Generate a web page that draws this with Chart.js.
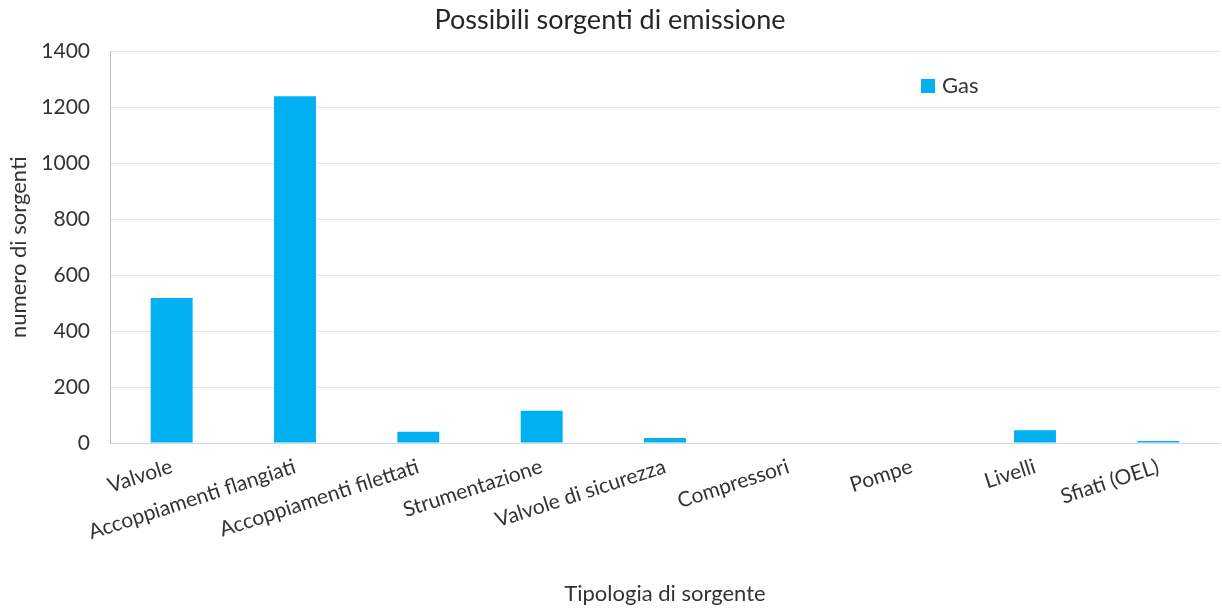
<!DOCTYPE html>
<html>
<head>
<meta charset="utf-8">
<script src="https://cdn.jsdelivr.net/npm/chart.js"></script>
<style>
  html, body { margin: 0; padding: 0; background: #fff; }
  #wrap { width: 1222px; height: 610px; position: relative; }
</style>
</head>
<body>
<div id="wrap"><canvas id="chart"></canvas></div>
<script>
// categorie e valori
var categories = ['Valvole', 'Accoppiamenti flangiati', 'Accoppiamenti filettati', 'Strumentazione',
    'Valvole di sicurezza', 'Compressori', 'Pompe', 'Livelli', 'Sfiati (OEL)'];
var gasValues = [518, 1240, 40, 115, 18, 0, 0, 46, 7];
var seriesName = 'Gas';
var yTicks = [0, 200, 400, 600, 800, 1000, 1200, 1400];

var FONT = 'Lato, "Open Sans", sans-serif';
var barColor = '#00B0F0';

// legenda disegnata dentro l'area del grafico
var insideLegend = {
    id: 'insideLegend',
    afterDraw: function(chart) {
        var ctx = chart.ctx;
        var ds = chart.data.datasets[0];
        ctx.save();
        ctx.fillStyle = ds.backgroundColor;
        ctx.fillRect(921, 79, 14, 14);
        ctx.fillStyle = '#333333';
        ctx.font = '22px ' + FONT;
        ctx.textBaseline = 'middle';
        ctx.fillText(ds.label, 942, 86);
        ctx.restore();
    }
};

var ctx = document.getElementById('chart').getContext('2d');
var chart = new Chart(ctx, {
    type: 'bar',
    data: {
        labels: categories,
        datasets: [{
            label: seriesName,
            data: gasValues,
            backgroundColor: barColor,
            categoryPercentage: 1,
            barPercentage: 0.34
        }]
    },
    options: {
        responsive: true,
        maintainAspectRatio: false,
        animation: false,
        layout: { padding: { left: 0, right: 2, top: 0, bottom: 0 } },
        plugins: {
            legend: { display: false },
            tooltip: { enabled: false },
            title: {
                display: true,
                text: 'Possibili sorgenti di emissione',
                color: '#262626',
                font: { family: FONT, size: 27, weight: 'normal' },
                padding: { top: 4, bottom: 15 }
            }
        },
        scales: {
            x: {
                grid: { display: false, drawTicks: false },
                border: { color: '#d9d9d9' },
                ticks: {
                    color: '#333333',
                    font: { family: FONT, size: 21 },
                    minRotation: 18,
                    maxRotation: 18,
                    autoSkip: false,
                    padding: 11
                },
                title: {
                    display: true,
                    text: 'Tipologia di sorgente',
                    color: '#333333',
                    font: { family: FONT, size: 22 },
                    padding: { top: 4, bottom: 3 }
                },
                afterFit: function(scale) { scale.height = 167; }
            },
            y: {
                min: 0,
                max: 1400,
                afterBuildTicks: function(scale) {
                    scale.ticks = yTicks.map(function(v) { return { value: v }; });
                },
                grid: { color: '#e3e3e3', drawTicks: false },
                border: { color: '#bfbfbf' },
                ticks: {
                    color: '#333333',
                    font: { family: FONT, size: 21 },
                    padding: 20,
                    callback: function(v) { return String(v); }
                },
                title: {
                    display: true,
                    text: 'numero di sorgenti',
                    color: '#333333',
                    font: { family: FONT, size: 22 },
                    padding: { top: 6, bottom: 0 }
                },
                afterFit: function(scale) { scale.width = 110; }
            }
        }
    },
    plugins: [insideLegend]
});
</script>
</body>
</html>
